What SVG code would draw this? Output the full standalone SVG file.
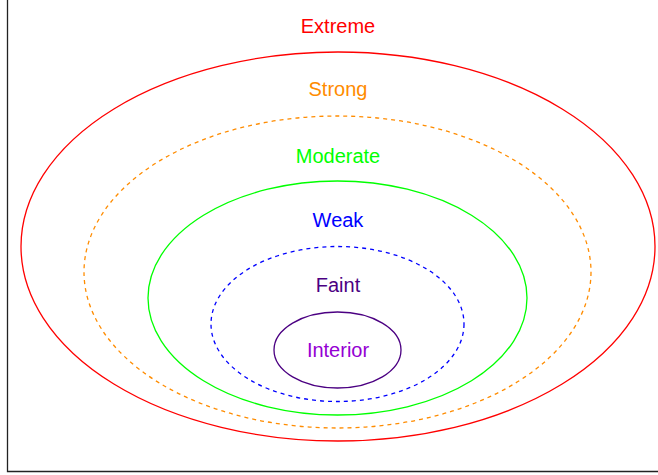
<svg xmlns="http://www.w3.org/2000/svg" width="658" height="475" viewBox="0 0 658 475">
<style>
  .lbl { font-family: "Liberation Sans", Arial, sans-serif; font-size: 20px; text-anchor: middle; }
  .ring { fill: none; stroke-width: 1.3; }
  .dash { stroke-dasharray: 4 4; }
</style>
<rect width="658" height="475" fill="#ffffff"/>
<g id="frame">
  <path d="M7.5,0 V471.5 H658" fill="none" stroke="#222222" stroke-width="1.3"/>
</g>
<g id="extreme">
  <ellipse class="ring" cx="338" cy="246.5" rx="317" ry="194.5" stroke="#ff0000"/>
  <text class="lbl" x="338" y="33" fill="#ff0000">Extreme</text>
</g>
<g id="strong">
  <ellipse class="ring dash" cx="337.5" cy="272" rx="253.5" ry="156" stroke="#ff8c00"/>
  <text class="lbl" x="338" y="96" fill="#ff8c00">Strong</text>
</g>
<g id="moderate">
  <ellipse class="ring" cx="337.5" cy="298" rx="189.5" ry="117" stroke="#00ff00"/>
  <text class="lbl" x="338" y="163" fill="#00ff00">Moderate</text>
</g>
<g id="weak">
  <ellipse class="ring dash" cx="337.5" cy="324" rx="126.5" ry="77.5" stroke="#0000ff"/>
  <text class="lbl" x="338" y="227" fill="#0000ff">Weak</text>
</g>
<g id="faint">
  <text class="lbl" x="338" y="292" fill="#4b0082">Faint</text>
</g>
<g id="interior">
  <ellipse class="ring" cx="337.5" cy="350" rx="63.5" ry="38" stroke="#4b0082"/>
  <text class="lbl" x="338" y="357" fill="#9400d3">Interior</text>
</g>
<g id="connectors"></g>
</svg>
